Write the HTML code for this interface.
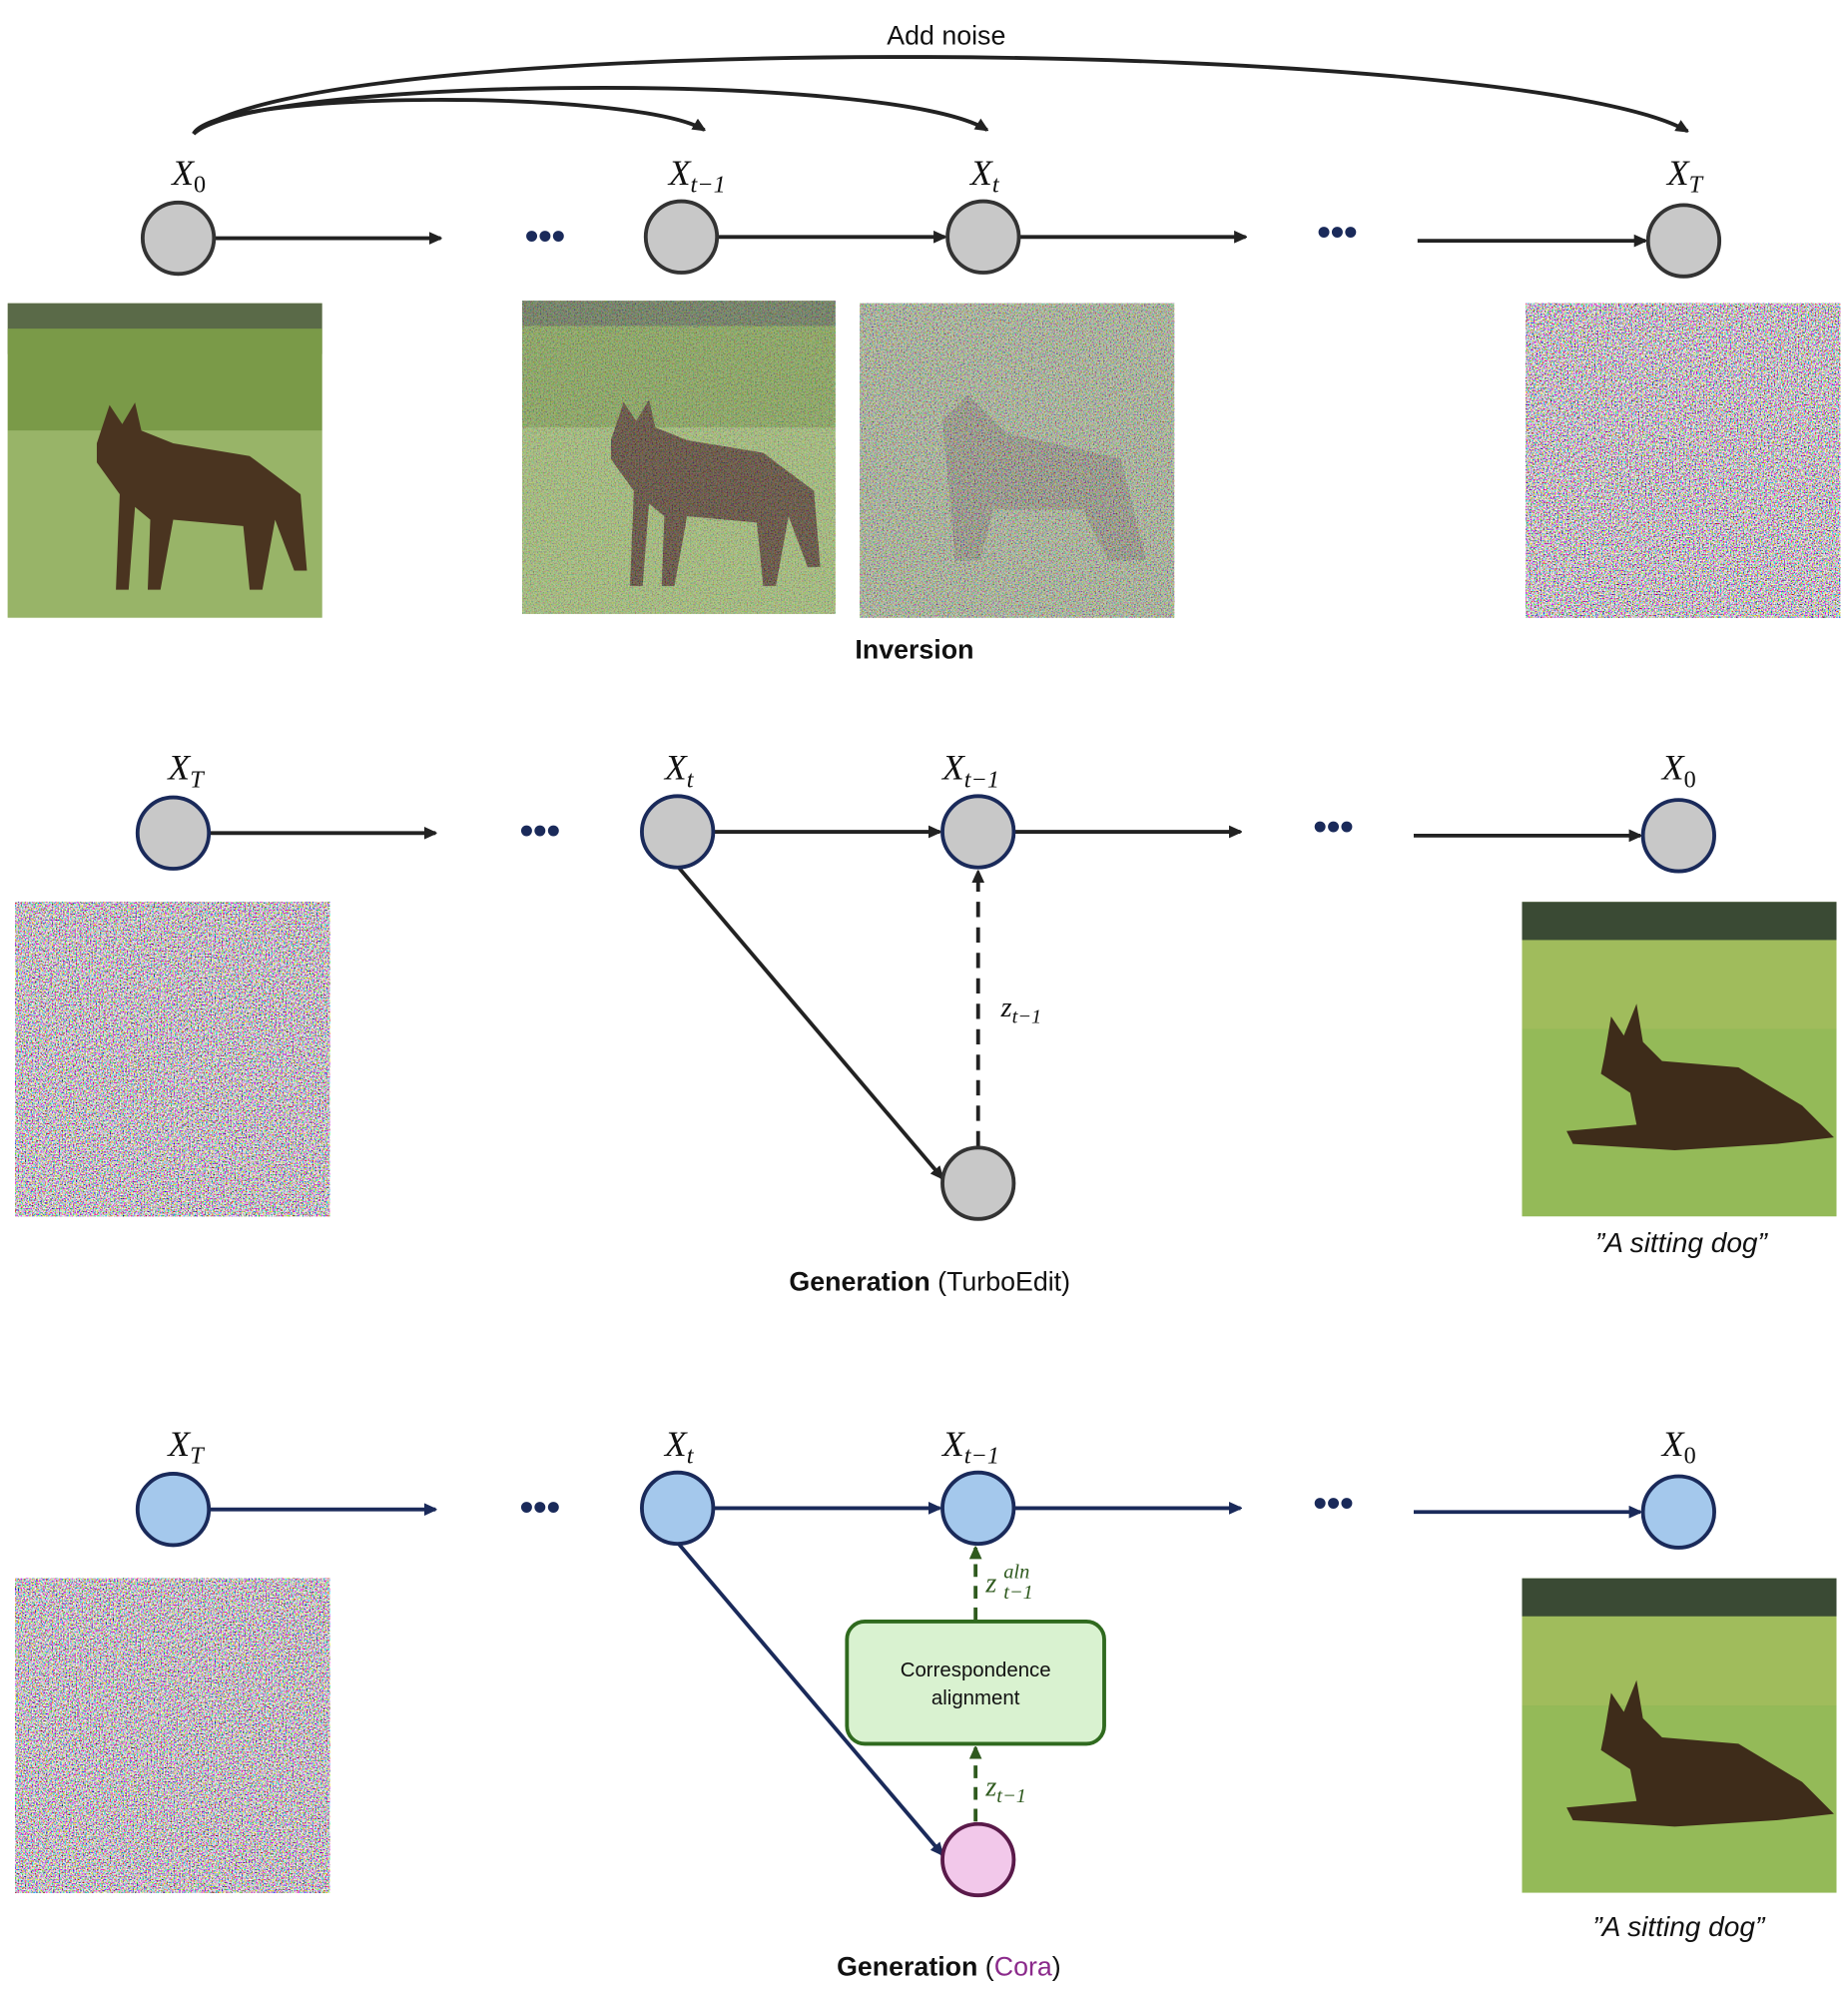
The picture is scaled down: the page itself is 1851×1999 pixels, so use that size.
<!DOCTYPE html>
<html><head><meta charset="utf-8"><style>html,body{margin:0;padding:0;background:#fff}svg{display:block}</style></head>
<body>
<svg width="1851" height="1999" viewBox="0 0 1451 1567" xmlns="http://www.w3.org/2000/svg" font-family="Liberation Sans, sans-serif">
<defs>
<marker id="ab" markerWidth="10" markerHeight="10" refX="9" refY="5" orient="auto" markerUnits="userSpaceOnUse"><path d="M0,0 L11,5 L0,10 z" fill="#222"/></marker>
<marker id="an" markerWidth="10" markerHeight="10" refX="9" refY="5" orient="auto" markerUnits="userSpaceOnUse"><path d="M0,0 L11,5 L0,10 z" fill="#1a2a5a"/></marker>
<marker id="ag" markerWidth="10" markerHeight="10" refX="9" refY="5" orient="auto" markerUnits="userSpaceOnUse"><path d="M0,0 L11,5 L0,10 z" fill="#2f5a1e"/></marker>
<filter id="nz" x="0" y="0" width="100%" height="100%"><feTurbulence type="fractalNoise" baseFrequency="0.9" numOctaves="1" seed="3"/><feColorMatrix type="matrix" values="3.2 0 0 0 -1.0  0 3.2 0 0 -1.05  0 0 3.2 0 -1.0  0 0 0 0 1"/></filter>
<filter id="nz2" x="0" y="0" width="100%" height="100%"><feTurbulence type="fractalNoise" baseFrequency="0.9" numOctaves="1" seed="7"/><feColorMatrix type="matrix" values="3 0 0 0 -0.9  0 3 0 0 -0.9  0 0 3 0 -0.9  0 0 0 0 0.55"/></filter>
<filter id="nz3" x="0" y="0" width="100%" height="100%"><feTurbulence type="fractalNoise" baseFrequency="0.9" numOctaves="1" seed="11"/><feColorMatrix type="matrix" values="3 0 0 0 -0.9  0 3 0 0 -0.9  0 0 3 0 -0.9  0 0 0 0 0.3"/></filter>
<symbol id="dogstand" viewBox="0 0 247 247">
<rect width="247" height="247" fill="#8aa85a"/>
<rect width="247" height="40" fill="#5a6a48"/>
<rect y="20" width="247" height="80" fill="#7a9a48"/>
<rect y="100" width="247" height="147" fill="#98b468"/>
<path d="M70,110 L80,80 L90,95 L100,78 L105,100 L130,110 L190,120 L230,150 L235,210 L225,210 L210,170 L200,225 L190,225 L185,175 L130,170 L120,225 L110,225 L112,170 L100,160 L95,225 L85,225 L88,150 L70,125 Z" fill="#4a3420"/>
</symbol>
<symbol id="dogsit" viewBox="0 0 247 247">
<rect width="247" height="247" fill="#8ab050"/>
<rect width="247" height="30" fill="#3a4a34"/>
<rect y="30" width="247" height="70" fill="#a0bc5c"/>
<rect y="100" width="247" height="147" fill="#94ba58"/>
<path d="M65,120 L70,90 L80,105 L90,80 L95,110 L110,125 L170,130 L220,160 L245,185 L200,190 L120,195 L40,190 L35,180 L90,175 L85,150 L62,135 Z" fill="#3e2c1a"/>
</symbol>
</defs>

<!-- Row 1 -->
<g fill="none" stroke="#222" stroke-width="3">
<path d="M152,105 C170,70 500,70 553,102" marker-end="url(#ab)"/>
<path d="M152,105 C200,60 700,55 775,102" marker-end="url(#ab)"/>
<path d="M152,105 C250,20 1200,30 1325,103" marker-end="url(#ab)"/>
<line x1="168" y1="187" x2="346" y2="187" marker-end="url(#ab)"/>
<line x1="563" y1="186" x2="742" y2="186" marker-end="url(#ab)"/>
<line x1="800" y1="186" x2="978" y2="186" marker-end="url(#ab)"/>
<line x1="1113" y1="189" x2="1292" y2="189" marker-end="url(#ab)"/>
</g>
<text x="743" y="35" font-size="21" text-anchor="middle" fill="#111">Add noise</text>
<g fill="#c8c8c8" stroke="#333" stroke-width="3">
<circle cx="140" cy="187" r="28"/><circle cx="535" cy="186" r="28"/><circle cx="772" cy="186" r="28"/><circle cx="1322" cy="189" r="28"/>
</g>
<g font-family="Liberation Serif, serif" font-style="italic" font-size="28" fill="#111">
<text x="135" y="145">X<tspan font-size="19" dy="6" font-style="normal">0</tspan></text>
<text x="525" y="145">X<tspan font-size="19" dy="6">t−1</tspan></text>
<text x="762" y="145">X<tspan font-size="19" dy="6">t</tspan></text>
<text x="1309" y="145">X<tspan font-size="19" dy="6">T</tspan></text>
</g>
<g fill="#1a2a5a" font-size="30" font-weight="bold" text-anchor="middle"><text x="428" y="195">•••</text><text x="1050" y="192">•••</text></g>
<use href="#dogstand" x="6" y="238" width="247" height="247"/>
<use href="#dogstand" x="410" y="236" width="246" height="246"/>
<rect x="410" y="236" width="246" height="246" fill="#888" filter="url(#nz3)"/>
<rect x="675" y="238" width="247" height="247" fill="#8a9a70"/>
<path d="M740,330 L760,310 L790,340 L880,360 L900,440 L870,440 L850,400 L780,400 L770,440 L750,440 Z" fill="#6a6a50"/>
<rect x="675" y="238" width="247" height="247" fill="#888" filter="url(#nz2)"/>
<rect x="1198" y="238" width="247" height="247" fill="#888" filter="url(#nz)"/>
<text x="718" y="517" font-size="21" font-weight="bold" text-anchor="middle" fill="#111">Inversion</text>

<!-- Row 2 -->
<g fill="none" stroke="#222" stroke-width="3">
<line x1="164" y1="654" x2="342" y2="654" marker-end="url(#ab)"/>
<line x1="560" y1="653" x2="738" y2="653" marker-end="url(#ab)"/>
<line x1="796" y1="653" x2="974" y2="653" marker-end="url(#ab)"/>
<line x1="1110" y1="656" x2="1288" y2="656" marker-end="url(#ab)"/>
<line x1="532" y1="680" x2="740" y2="925" marker-end="url(#ab)"/>
<line x1="768" y1="900" x2="768" y2="684" stroke-dasharray="12,8" marker-end="url(#ab)"/>
</g>
<g fill="#c8c8c8" stroke="#1a2a5a" stroke-width="3">
<circle cx="136" cy="654" r="28"/><circle cx="532" cy="653" r="28"/><circle cx="768" cy="653" r="28"/><circle cx="1318" cy="656" r="28"/>
</g>
<circle cx="768" cy="929" r="28" fill="#c8c8c8" stroke="#333" stroke-width="3"/>
<g font-family="Liberation Serif, serif" font-style="italic" font-size="28" fill="#111">
<text x="132" y="612">X<tspan font-size="19" dy="6">T</tspan></text>
<text x="522" y="612">X<tspan font-size="19" dy="6">t</tspan></text>
<text x="740" y="612">X<tspan font-size="19" dy="6">t−1</tspan></text>
<text x="1305" y="612">X<tspan font-size="19" dy="6" font-style="normal">0</tspan></text>
<text x="786" y="798" font-size="22">z<tspan font-size="16" dy="5">t−1</tspan></text>
</g>
<g fill="#1a2a5a" font-size="30" font-weight="bold" text-anchor="middle"><text x="424" y="662">•••</text><text x="1047" y="659">•••</text></g>
<rect x="12" y="708" width="247" height="247" fill="#888" filter="url(#nz)"/>
<use href="#dogsit" x="1195" y="708" width="247" height="247"/>
<text x="1320" y="983" font-size="22" font-style="italic" text-anchor="middle" fill="#111">”A sitting dog”</text>
<text x="730" y="1013" font-size="21" text-anchor="middle" fill="#111"><tspan font-weight="bold">Generation</tspan> (TurboEdit)</text>

<!-- Row 3 -->
<g fill="none" stroke="#1a2a5a" stroke-width="3">
<line x1="164" y1="1185" x2="342" y2="1185" marker-end="url(#an)"/>
<line x1="560" y1="1184" x2="738" y2="1184" marker-end="url(#an)"/>
<line x1="796" y1="1184" x2="974" y2="1184" marker-end="url(#an)"/>
<line x1="1110" y1="1187" x2="1288" y2="1187" marker-end="url(#an)"/>
<line x1="532" y1="1211" x2="740" y2="1456" marker-end="url(#an)"/>
</g>
<g fill="none" stroke="#2f5a1e" stroke-width="3" stroke-dasharray="10,7">
<line x1="766" y1="1430" x2="766" y2="1372" marker-end="url(#ag)"/>
<line x1="766" y1="1272" x2="766" y2="1215" marker-end="url(#ag)"/>
</g>
<g fill="#a4c8ec" stroke="#1a2a5a" stroke-width="3">
<circle cx="136" cy="1185" r="28"/><circle cx="532" cy="1184" r="28"/><circle cx="768" cy="1184" r="28"/><circle cx="1318" cy="1187" r="28"/>
</g>
<circle cx="768" cy="1460" r="28" fill="#f2c8ea" stroke="#5a1a4a" stroke-width="3"/>
<rect x="665" y="1273" width="202" height="96" rx="14" fill="#d9f2d0" stroke="#2f6a1e" stroke-width="3"/>
<text x="766" y="1316" font-size="16" text-anchor="middle" fill="#111">Correspondence</text>
<text x="766" y="1338" font-size="16" text-anchor="middle" fill="#111">alignment</text>
<g font-family="Liberation Serif, serif" font-style="italic" font-size="28" fill="#111">
<text x="132" y="1143">X<tspan font-size="19" dy="6">T</tspan></text>
<text x="522" y="1143">X<tspan font-size="19" dy="6">t</tspan></text>
<text x="740" y="1143">X<tspan font-size="19" dy="6">t−1</tspan></text>
<text x="1305" y="1143">X<tspan font-size="19" dy="6" font-style="normal">0</tspan></text>
</g>
<g font-family="Liberation Serif, serif" font-style="italic" font-size="22" fill="#2f5a1e">
<text x="774" y="1250">z</text><text x="788" y="1239" font-size="16">aln</text><text x="788" y="1255" font-size="16">t−1</text>
<text x="774" y="1410">z<tspan font-size="16" dy="5">t−1</tspan></text>
</g>
<g fill="#1a2a5a" font-size="30" font-weight="bold" text-anchor="middle"><text x="424" y="1193">•••</text><text x="1047" y="1190">•••</text></g>
<rect x="12" y="1239" width="247" height="247" fill="#888" filter="url(#nz)"/>
<use href="#dogsit" x="1195" y="1239" width="247" height="247"/>
<text x="1318" y="1520" font-size="22" font-style="italic" text-anchor="middle" fill="#111">”A sitting dog”</text>
<text x="745" y="1551" font-size="21" text-anchor="middle" fill="#111"><tspan font-weight="bold">Generation</tspan> (<tspan fill="#8b2a8b">Cora</tspan>)</text>
</svg>
</body></html>
